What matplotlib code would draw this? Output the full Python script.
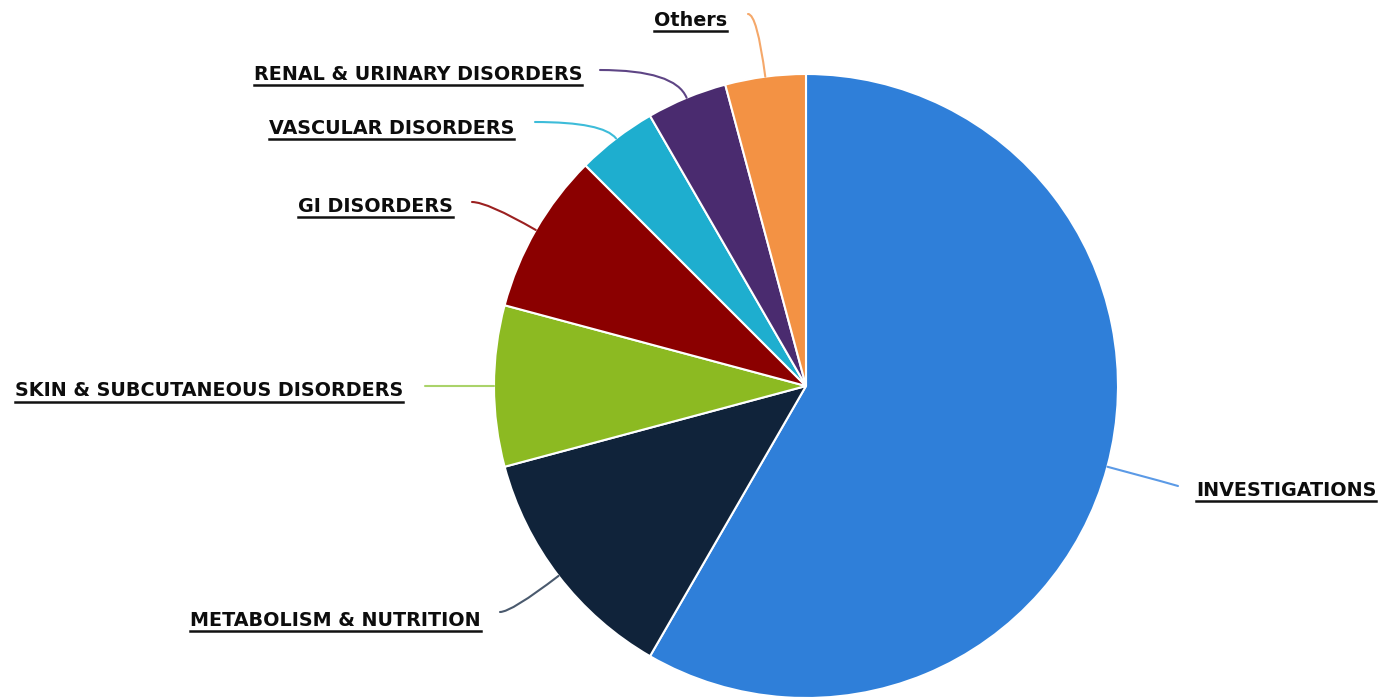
import numpy as np
import matplotlib.pyplot as plt

categories = ['INVESTIGATIONS', 'METABOLISM & NUTRITION', 'SKIN & SUBCUTANEOUS DISORDERS',
              'GI DISORDERS', 'VASCULAR DISORDERS', 'RENAL & URINARY DISORDERS', 'Others']
values = [14, 3, 2, 2, 1, 1, 1]
colors = ['#2f7fd9', '#10233a', '#8cba22', '#8b0000', '#1eaecf', '#4a2b6f', '#f39244']
line_colors = ['#5b9ae6', '#4a5a6e', '#aad36a', '#9b2020', '#3dbcd9', '#5e4585', '#f5a86a']

# label anchor (pixel x, pixel y from top), alignment, leader line end
label_pos = [(1196, 490, 'left', (1178, 486)),
             (481, 620, 'right', (500, 612)),
             (403, 391, 'right', (425, 386)),
             (453, 206, 'right', (472, 202)),
             (514, 128, 'right', (535, 122)),
             (582, 74, 'right', (600, 70)),
             (727, 20, 'right', (748, 14))]

W, H = 1384, 700
fig = plt.figure(figsize=(W / 100, H / 100), dpi=100)
ax = fig.add_axes([0, 0, 1, 1])

cx, cy, r = 806, H - 386, 312
wedges, _ = ax.pie(values, colors=colors, startangle=90, counterclock=False,
                   center=(cx, cy), radius=r, frame=True,
                   wedgeprops=dict(edgecolor='white', linewidth=1.5))
ax.set_xlim(0, W)
ax.set_ylim(0, H)
ax.set_aspect('equal')
ax.axis('off')

texts = []
for w, lab, lc, (tx, ty, ha, end) in zip(wedges, categories, line_colors, label_pos):
    mid = (w.theta1 + w.theta2) / 2
    ex = cx + r * np.cos(np.radians(mid))
    ey = cy + r * np.sin(np.radians(mid))
    if abs(np.sin(np.radians(mid))) < 0.05:
        cs = 'arc3,rad=0'
    else:
        cs = f'angle3,angleA=0,angleB={mid}'
    ax.annotate('', xy=(ex, ey), xytext=(end[0], H - end[1]),
                arrowprops=dict(arrowstyle='-', color=lc, lw=1.5,
                                shrinkA=0, shrinkB=0, connectionstyle=cs))
    t = ax.text(tx, H - ty, lab, ha=ha, va='center', fontsize=13.8,
                fontweight='bold', color='#0d0d0d', family='DejaVu Sans')
    texts.append(t)

# underline each label
fig.canvas.draw()
inv = ax.transData.inverted()
for t in texts:
    bb = t.get_window_extent()
    (x0, y0), (x1, y1) = inv.transform([(bb.x0, bb.y0), (bb.x1, bb.y1)])
    ax.plot([x0, x1], [y0 - 1, y0 - 1], color='#111111', lw=1.8)

fig.savefig('out.png', dpi=100, facecolor='white')
